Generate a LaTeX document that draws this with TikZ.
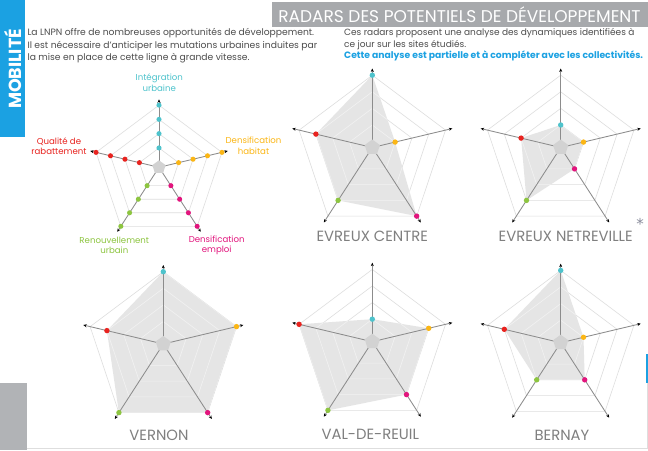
\documentclass[tikz,border=0pt]{standalone}
\usepackage{fontspec}
\setmainfont{Poppins}
\newfontfamily\symfont{DejaVu Sans}
\usetikzlibrary{arrows.meta,calc,shapes.geometric}
\definecolor{cturq}{HTML}{4EC3CC}
\definecolor{corange}{HTML}{FBB615}
\definecolor{cred}{HTML}{E8231F}
\definecolor{cgreen}{HTML}{8DC540}
\definecolor{cmag}{HTML}{E2157D}
\definecolor{cblue}{HTML}{1BA1E2}
\definecolor{hdrgray}{HTML}{A7A9AC}
\definecolor{blockgray}{HTML}{B1B3B6}
\definecolor{txtgray}{HTML}{4D4D4D}
\definecolor{titlegray}{HTML}{7F7F7F}
\definecolor{ringgray}{HTML}{DEDEDE}
\definecolor{ringin}{HTML}{F2F2F2}
\definecolor{axisgray}{HTML}{8C8C8C}
\definecolor{datagray}{HTML}{E5E5E5}
\definecolor{hubgray}{HTML}{D2D2D2}
\definecolor{stargray}{HTML}{8A8C9C}
\tikzset{
  ringline/.style={draw=ringgray, line width=0.6pt},
  ringinner/.style={draw=ringin, line width=0.6pt},
  axisline/.style={draw=axisgray, line width=0.85pt, -{Stealth[length=3.4pt,width=3pt,color=black]}},
  hubshape/.style={regular polygon, regular polygon sides=5, fill=hubgray, inner sep=0pt, minimum size=#1},
  dot/.style={circle, inner sep=0pt, minimum size=5.4pt, fill=#1},
  ldot/.style={circle, inner sep=0pt, minimum size=5.1pt, fill=#1},
  radtitle/.style={text=titlegray, font=\fontsize{14.8}{18}\selectfont},
  leglabel/.style={align=center, font=\fontsize{8.6}{10.6}\selectfont, text=#1},
  bodytext/.style={align=left, text=txtgray, anchor=north west, inner sep=0pt},
}
% radar: #1 prefix, #2 cx, #3 cy, #4 scale, #5..#9 levels (top, right, bottom-right, bottom-left, left)
\newcommand{\radarplot}[9]{%
  \begin{scope}[shift={(#2,#3)},scale=#4]
    \coordinate (#1c) at (0,0);
    \coordinate (#1v1) at (0,-79);
    \coordinate (#1v2) at (80,-19);
    \coordinate (#1v3) at (48.5,75);
    \coordinate (#1v4) at (-48.5,75);
    \coordinate (#1v5) at (-80,-19);
  \end{scope}
  \pgfmathsetmacro\radfa{0.075+0.21*#5}%
  \pgfmathsetmacro\radfb{0.075+0.21*#6}%
  \pgfmathsetmacro\radfc{0.075+0.21*#7}%
  \pgfmathsetmacro\radfd{0.075+0.21*#8}%
  \pgfmathsetmacro\radfe{0.075+0.21*#9}%
  \coordinate (#1p1) at ($(#1c)!\radfa!(#1v1)$);
  \coordinate (#1p2) at ($(#1c)!\radfb!(#1v2)$);
  \coordinate (#1p3) at ($(#1c)!\radfc!(#1v3)$);
  \coordinate (#1p4) at ($(#1c)!\radfd!(#1v4)$);
  \coordinate (#1p5) at ($(#1c)!\radfe!(#1v5)$);
  \foreach \j in {1,2,3,4}{%
    \pgfmathsetmacro\radf{0.075+0.21*\j}%
    \draw[ringline] ($(#1c)!\radf!(#1v1)$) -- ($(#1c)!\radf!(#1v2)$) -- ($(#1c)!\radf!(#1v3)$) -- ($(#1c)!\radf!(#1v4)$) -- ($(#1c)!\radf!(#1v5)$) -- cycle;
  }
  \fill[datagray] (#1p1) -- (#1p2) -- (#1p3) -- (#1p4) -- (#1p5) -- cycle;
  \begin{scope}
    \clip (#1p1) -- (#1p2) -- (#1p3) -- (#1p4) -- (#1p5) -- cycle;
    \foreach \j in {1,2,3,4}{%
      \pgfmathsetmacro\radf{0.075+0.21*\j}%
      \draw[ringinner] ($(#1c)!\radf!(#1v1)$) -- ($(#1c)!\radf!(#1v2)$) -- ($(#1c)!\radf!(#1v3)$) -- ($(#1c)!\radf!(#1v4)$) -- ($(#1c)!\radf!(#1v5)$) -- cycle;
    }
  \end{scope}
  \foreach \k in {1,...,5}{\draw[axisline] (#1c) -- (#1v\k);}
  \node[hubshape=16pt] (#1hub) at (#1c) {};
  \node[dot=cturq] (#1d1) at (#1p1) {};
  \node[dot=corange] (#1d2) at (#1p2) {};
  \node[dot=cmag] (#1d3) at (#1p3) {};
  \node[dot=cgreen] (#1d4) at (#1p4) {};
  \node[dot=cred] (#1d5) at (#1p5) {};
}
\begin{document}
\begin{tikzpicture}[x=1pt,y=-1pt]
\useasboundingbox (0,0) rectangle (648,450);
\fill[white] (0,0) rectangle (648,450);
% side bars and frame
\fill[cblue] (0,0) rectangle (25,136.7);
\node[rotate=90, text=white, font=\fontsize{17.5}{18}\selectfont\bfseries] (mob) at (13,69) {MOBILITÉ};
\fill[blockgray] (0,382.7) rectangle (26.7,450);
\draw[ringgray, line width=1.2pt] (26.7,448.8) -- (647.2,448.8) -- (647.2,383);
\draw[cblue, line width=1.6pt] (647,354) -- (647,383);
% header
\fill[hdrgray] (271.7,2) rectangle (648,26.7);
\node[text=white, font=\fontsize{17}{18}\selectfont] (hdr) at (459.5,14.2) {RADARS DES POTENTIELS DE DÉVELOPPEMENT};
% paragraphs
\node[bodytext, font=\fontsize{9.2}{12.5}\selectfont] (introleft) at (27.3,28.5) {La LNPN offre de nombreuses opportunités de développement.\\Il est nécessaire d’anticiper les mutations urbaines induites par\\la mise en place de cette ligne à grande vitesse.};
\node[bodytext, font=\fontsize{9}{11.5}\selectfont] (introright) at (344,28.5) {Ces radars proposent une analyse des dynamiques identifiées à\\ce jour sur les sites étudiés.\\{\color{cblue}\fontsize{9.25}{11.5}\selectfont\bfseries Cette analyse est partielle et à compléter avec les collectivités.}};
% legend radar
\begin{scope}[shift={(159,167.3)},scale=0.86]
  \coordinate (gc) at (0,0);
  \coordinate (gv1) at (0,-79);
  \coordinate (gv2) at (80,-19);
  \coordinate (gv3) at (48.5,75);
  \coordinate (gv4) at (-48.5,75);
  \coordinate (gv5) at (-80,-19);
\end{scope}
\foreach \j in {1,2,3,4}{%
  \pgfmathsetmacro\radf{0.075+0.21*\j}%
  \draw[ringline] ($(gc)!\radf!(gv1)$) -- ($(gc)!\radf!(gv2)$) -- ($(gc)!\radf!(gv3)$) -- ($(gc)!\radf!(gv4)$) -- ($(gc)!\radf!(gv5)$) -- cycle;
}
\foreach \k in {1,...,5}{\draw[axisline] (gc) -- (gv\k);}
\node[hubshape=14pt] (ghub) at (gc) {};
\foreach \k/\col in {1/cturq,2/corange,3/cmag,4/cgreen,5/cred}{%
  \foreach \j in {1,2,3,4}{%
    \pgfmathsetmacro\radf{0.075+0.21*\j}%
    \node[ldot=\col] (gd\k\j) at ($(gc)!\radf!(gv\k)$) {};
  }
}
\node[leglabel=cturq] (lab1) at (159.3,82.8) {Intégration\\urbaine};
\node[leglabel=corange] (lab2) at (253.5,146) {Densification\\habitat};
\node[leglabel=cred] (lab5) at (59,146) {Qualité de\\rabattement};
\node[leglabel=cgreen] (lab4) at (114.3,245.3) {Renouvellement\\urbain};
\node[leglabel=cmag] (lab3) at (216.7,245.3) {Densification\\emploi};
% radars
\radarplot{ec}{372.3}{147.5}{1}{4}{1}{4}{3}{3}
\radarplot{en}{560.7}{147.5}{1}{1}{1}{1}{3}{2}
\radarplot{ve}{163.3}{344}{1}{4}{4}{4}{4}{3}
\radarplot{vr}{372.3}{341.7}{1}{1}{3}{3}{4}{4}
\radarplot{be}{560.7}{342.7}{1}{4}{1}{2}{2}{3}
% titles
\node[radtitle] (tec) at (372.3,236) {EVREUX CENTRE};
\node[radtitle] (ten) at (565.7,236) {EVREUX NETREVILLE};
\node[text=stargray, font=\symfont\fontsize{15}{16}\selectfont, anchor=north, inner sep=0pt] (star) at (640,218) {*};
\node[radtitle] (tve) at (159,435) {VERNON};
\node[radtitle] (tvr) at (370.3,434) {VAL-DE-REUIL};
\node[radtitle] (tbe) at (562,435.7) {BERNAY};
\end{tikzpicture}
\end{document}
